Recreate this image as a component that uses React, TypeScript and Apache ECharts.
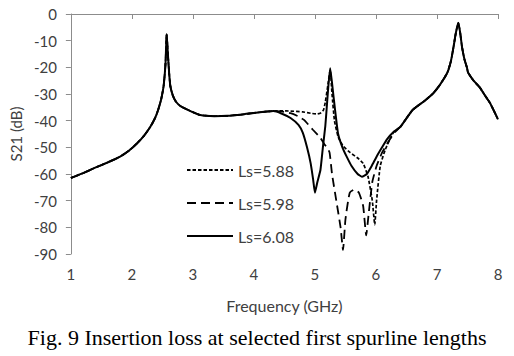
import React, { useEffect, useRef } from "react";
import * as echarts from "echarts";

// Shared part of all three curves (low-frequency side), GHz / dB
const headFreq = [1.0, 1.2, 1.4, 1.6, 1.8, 1.95, 2.09, 2.2, 2.3, 2.38, 2.43, 2.48, 2.52, 2.55, 2.57, 2.59, 2.61, 2.63, 2.67, 2.72, 2.8, 2.96, 3.12, 3.35, 3.56, 3.8, 4.0, 4.2, 4.32];
const headDb = [-61.5, -59.7, -57.6, -55.7, -53.6, -51.3, -48.4, -45.6, -42.4, -39, -36, -32, -27, -19, -7.5, -15, -22, -27, -30.5, -32.8, -34.6, -36.4, -37.9, -38.3, -38.2, -37.7, -37.1, -36.6, -36.4];

// Shared part of all three curves (high-frequency side)
const tailFreq = [6.4, 6.6, 6.8, 6.94, 7.05, 7.17, 7.23, 7.27, 7.31, 7.35, 7.38, 7.41, 7.45, 7.49, 7.51, 7.6, 7.7, 7.8, 7.87, 8.0];
const tailDb = [-42.3, -36, -32.5, -29.7, -26.5, -22, -17.5, -12.5, -7, -3.3, -7, -12.3, -17, -20, -22, -25, -27.5, -31, -33.4, -39.5];

// Ls = 5.88
const ls588Freq = [4.45, 4.6, 4.8, 4.95, 5.04, 5.1, 5.14, 5.17, 5.21, 5.25, 5.28, 5.32, 5.38, 5.46, 5.58, 5.7, 5.79, 5.87, 5.94, 5.98, 6.01, 6.07, 6.15, 6.28];
const ls588Db = [-36.3, -36.4, -36.7, -37.3, -37.5, -37, -36, -33, -27, -21, -30, -40, -46, -49.5, -52, -54, -56, -61, -70, -79, -70, -57, -51, -44.6];

// Ls = 5.98
const ls598Freq = [4.45, 4.6, 4.72, 4.82, 4.97, 5.09, 5.16, 5.2, 5.24, 5.28, 5.35, 5.42, 5.46, 5.5, 5.57, 5.65, 5.72, 5.79, 5.84, 5.88, 5.94, 6.01, 6.1, 6.2, 6.3];
const ls598Db = [-36.5, -37.2, -38.3, -39.7, -43.5, -46.5, -49, -50, -52, -60, -70, -80, -88.5, -77, -67, -65.8, -67, -72, -83, -75, -63, -57, -52, -48, -44.5];

// Ls = 6.08
const ls608Freq = [4.45, 4.6, 4.73, 4.8, 4.87, 4.93, 4.97, 5.0, 5.04, 5.09, 5.13, 5.17, 5.2, 5.22, 5.25, 5.29, 5.33, 5.38, 5.45, 5.52, 5.6, 5.7, 5.77, 5.85, 5.93, 6.01, 6.1, 6.18, 6.3];
const ls608Db = [-37.3, -39, -41.6, -44.5, -50, -56, -62, -67, -63, -58.5, -50, -42, -33, -27, -20.3, -28, -36, -45, -50, -53.5, -57, -60, -61, -60, -57, -53.5, -50, -47, -44];

const seriesNames = ["Ls=5.88", "Ls=5.98", "Ls=6.08"];
const xTicks = { min: 1, max: 8, interval: 1 };
const yTicks = { min: -90, max: 0, interval: 10 };

const zip = (f: number[], d: number[]) => f.map((x, i) => [x, d[i]]);
const full = (f: number[], d: number[]) => [
  ...zip(headFreq, headDb),
  ...zip(f, d),
  ...zip(tailFreq, tailDb),
];

export default function App() {
  const ref = useRef<HTMLDivElement>(null);
  useEffect(() => {
    document.body.style.margin = "0";
    const chart = echarts.init(ref.current!, null, { renderer: "svg" });
    const labelFont = "Lato";
    const axisColor = "#8c8c8c";
    chart.setOption({
      animation: false,
      backgroundColor: "#ffffff",
      title: {
        text: "Fig. 9 Insertion loss at selected first spurline lengths",
        left: "center",
        top: 321,
        textStyle: {
          fontFamily: "Liberation Serif",
          fontSize: 22,
          fontWeight: "normal",
          color: "#000",
        },
      },
      legend: {
        orient: "vertical",
        left: 181,
        top: 157,
        itemWidth: 46,
        itemHeight: 14,
        itemGap: 17,
        itemStyle: { opacity: 0 },
        textStyle: { fontFamily: labelFont, fontSize: 16, color: "#404040" },
        data: seriesNames,
      },
      grid: { left: 70, right: 16, top: 14, bottom: 102, containLabel: false },
      xAxis: {
        type: "value",
        ...xTicks,
        name: "Frequency (GHz)",
        nameLocation: "middle",
        nameGap: 43,
        nameTextStyle: { fontFamily: labelFont, fontSize: 16, color: "#404040" },
        axisLine: { show: true, lineStyle: { color: axisColor, width: 1 } },
        axisTick: { show: true, inside: false, length: 5, lineStyle: { color: axisColor } },
        axisLabel: { margin: 12, fontFamily: labelFont, fontSize: 15, color: "#404040" },
        splitLine: { show: false },
      },
      yAxis: {
        type: "value",
        ...yTicks,
        name: "S21 (dB)",
        nameLocation: "middle",
        nameRotate: 90,
        nameGap: 46,
        nameTextStyle: { fontFamily: labelFont, fontSize: 15, color: "#404040" },
        axisLine: { show: true, lineStyle: { color: axisColor, width: 1 } },
        axisTick: { show: true, inside: false, length: 5, lineStyle: { color: axisColor } },
        axisLabel: { margin: 14, fontFamily: labelFont, fontSize: 15, color: "#404040" },
        splitLine: { show: false },
      },
      series: [
        {
          name: seriesNames[0],
          type: "line",
          symbol: "none",
          smooth: 0.15,
          data: full(ls588Freq, ls588Db),
          lineStyle: { color: "#000", width: 1.7, type: [3.5, 2] },
          itemStyle: { color: "#000" },
          z: 3,
        },
        {
          name: seriesNames[1],
          type: "line",
          symbol: "none",
          smooth: 0.15,
          data: full(ls598Freq, ls598Db),
          lineStyle: { color: "#000", width: 1.8, type: [9, 5] },
          itemStyle: { color: "#000" },
          z: 4,
        },
        {
          name: seriesNames[2],
          type: "line",
          symbol: "none",
          smooth: 0.15,
          data: full(ls608Freq, ls608Db),
          lineStyle: { color: "#000", width: 2 },
          itemStyle: { color: "#000" },
          z: 5,
        },
      ],
    });
    return () => chart.dispose();
  }, []);
  return <div ref={ref} style={{ width: 514, height: 356 }} />;
}
